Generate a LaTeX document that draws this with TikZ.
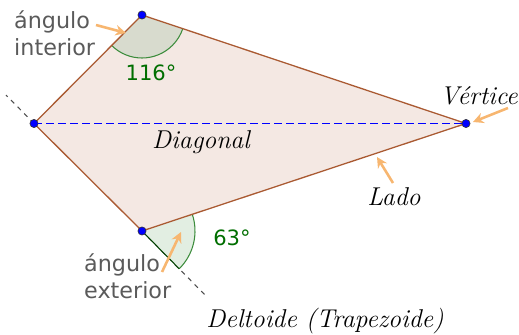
\documentclass[tikz,border=0pt]{standalone}
\usepackage{fontspec}
\newfontfamily\geosans{DejaVu Sans}
\usepackage{xcolor}
\usetikzlibrary{arrows.meta,angles,calc}
\definecolor{polyfill}{RGB}{244,232,227}
\definecolor{polyedge}{RGB}{170,90,50}
\definecolor{angint}{RGB}{216,219,206}
\definecolor{angext}{RGB}{226,238,226}
\definecolor{angarc}{RGB}{60,140,60}
\definecolor{anglbl}{RGB}{0,110,0}
\definecolor{notearr}{RGB}{247,182,112}
\definecolor{notegray}{RGB}{90,90,90}
\definecolor{diagblue}{RGB}{0,0,255}
\tikzset{
  poly_fill/.style={fill=polyfill},
  poly_edge/.style={draw=polyedge, line width=1.1pt, line join=round},
  ext_line/.style={draw=black!70, line width=0.9pt, dash pattern=on 4pt off 4pt},
  diag_seg/.style={fill=diagblue},
  vtx/.style={circle, fill=blue, draw=black!80, line width=0.5pt, inner sep=0pt, minimum size=7pt},
  note_arr/.style={-{Stealth[length=9pt,width=9pt]}, line width=2.2pt, draw=notearr},
  sans_lbl/.style={font=\geosans\fontsize{19}{23}\selectfont, text=notegray, align=left, inner sep=0pt},
  ang_lbl/.style={font=\geosans\fontsize{18}{22}\selectfont, text=anglbl, inner sep=0pt},
  it_lbl/.style={font=\fontsize{22}{26}\selectfont\itshape, inner sep=0pt},
}
\begin{document}
\begin{tikzpicture}[x=0.03cm, y=-0.03cm]
\useasboundingbox (0,0) rectangle (519,335);

% vertices of the kite
\coordinate (A) at (142,15);
\coordinate (B) at (34,123.5);
\coordinate (C) at (142,231);
\coordinate (D) at (466,123.5);
\coordinate (Bx) at (6,95);
\coordinate (Cx) at (207,297);

% body
\fill[poly_fill] (A) -- (D) -- (C) -- (B) -- cycle;
% diagonal, dash by dash
\foreach \k in {0,...,35}
  \fill[diag_seg] ($(B)!{\k*12/432}!(D)+(0,-0.8)$) rectangle ($(B)!{(\k*12+8)/432}!(D)+(0,0.8)$);
\draw[ext_line] (B) -- (Bx);
\draw[ext_line] (C) -- (Cx);

% angles
\pic[fill=angint, draw=angarc, line width=0.9pt, angle radius=1.29cm] {angle=B--A--D};
\pic[fill=angext, draw=angarc, line width=0.9pt, angle radius=1.59cm] {angle=Cx--C--D};
\draw[draw=black!75!green, line width=0.9pt] (C) -- ($(C)!1.59cm!(Cx)$);

% sides
\draw[poly_edge] (A) -- (D) -- (C) -- (B) -- cycle;

% points
\foreach \p in {A,B,C,D}
  \node[vtx] at (\p) {};

% labels
\node[sans_lbl, anchor=west] (intlbl) at (14,33) {ángulo\\interior};
\node[sans_lbl, anchor=west] (extlbl) at (84,276) {ángulo\\exterior};
\node[ang_lbl] (intval) at (151,73) {116°};
\node[ang_lbl] (extval) at (232,238) {63°};
\node[it_lbl, anchor=east] (vtxlbl) at (518,96) {Vértice};
\node[it_lbl] (diaglbl) at (201,142) {Diagonal};
\node[it_lbl] (sidelbl) at (394,197) {Lado};
\node[it_lbl] (title) at (325,321) {Deltoide (Trapezoide)};

% pointer arrows
\coordinate (intT) at (96,25);   \coordinate (intH) at (126,33);
\coordinate (extT) at (162,272); \coordinate (extH) at (181,232);
\coordinate (vtxT) at (508,108); \coordinate (vtxH) at (473,122);
\coordinate (sideT) at (393,183); \coordinate (sideH) at (377,157);
\draw[note_arr] (intT) -- (intH);
\draw[note_arr] (extT) -- (extH);
\draw[note_arr] (vtxT) -- (vtxH);
\draw[note_arr] (sideT) -- (sideH);

\end{tikzpicture}
\end{document}
